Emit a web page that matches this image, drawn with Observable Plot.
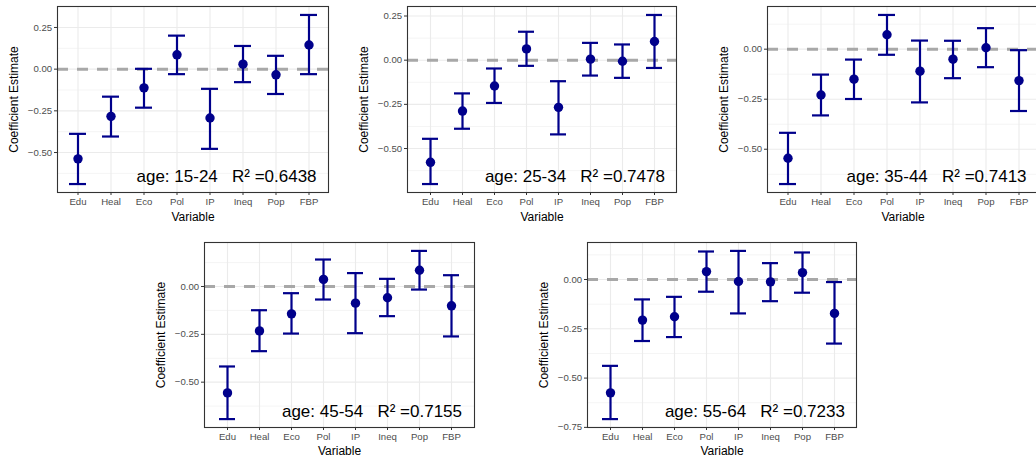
<!DOCTYPE html>
<html><head><meta charset="utf-8">
<script src="https://cdn.jsdelivr.net/npm/d3@7"></script>
<script src="https://cdn.jsdelivr.net/npm/@observablehq/plot@0.6"></script>
<style>
html,body{margin:0;padding:0;background:#fff;}
#root{position:relative;width:1036px;height:460px;overflow:hidden;background:#fff;}
.panel{position:absolute;}
.panel svg{max-width:none;overflow:visible;display:block;}
</style></head><body><div id="root"></div>
<script>
const variables = ["Edu","Heal","Eco","Pol","IP","Ineq","Pop","FBP"];
const ageGroups = ["15-24","25-34","35-44","45-54","55-64"];
const rSquared = ["0.6438","0.7478","0.7413","0.7155","0.7233"];

const est_15_24 = [-0.538,-0.283,-0.112,0.086,-0.293,0.030,-0.034,0.145];
const low_15_24 = [-0.689,-0.404,-0.231,-0.030,-0.478,-0.078,-0.149,-0.030];
const up_15_24  = [-0.388,-0.165,0.002,0.201,-0.118,0.139,0.080,0.325];

const est_25_34 = [-0.578,-0.288,-0.146,0.064,-0.267,0.006,-0.006,0.106];
const low_25_34 = [-0.701,-0.388,-0.242,-0.032,-0.420,-0.087,-0.100,-0.044];
const up_25_34  = [-0.445,-0.188,-0.047,0.161,-0.119,0.098,0.089,0.256];

const est_35_44 = [-0.545,-0.229,-0.150,0.072,-0.110,-0.050,0.007,-0.157];
const low_35_44 = [-0.674,-0.331,-0.249,-0.028,-0.266,-0.145,-0.090,-0.309];
const up_35_44  = [-0.418,-0.127,-0.052,0.171,0.043,0.042,0.105,-0.005];

const est_45_54 = [-0.556,-0.232,-0.143,0.037,-0.087,-0.059,0.085,-0.101];
const low_45_54 = [-0.693,-0.338,-0.246,-0.068,-0.244,-0.155,-0.016,-0.261];
const up_45_54  = [-0.418,-0.124,-0.035,0.141,0.070,0.040,0.186,0.059];

const est_55_64 = [-0.575,-0.206,-0.189,0.040,-0.010,-0.012,0.035,-0.172];
const low_55_64 = [-0.708,-0.312,-0.292,-0.062,-0.172,-0.110,-0.067,-0.325];
const up_55_64  = [-0.438,-0.101,-0.088,0.142,0.145,0.083,0.137,-0.013];

const estimates = [est_15_24, est_25_34, est_35_44, est_45_54, est_55_64];
const lowers = [low_15_24, low_25_34, low_35_44, low_45_54, low_55_64];
const uppers = [up_15_24, up_25_34, up_35_44, up_45_54, up_55_64];

// layout (pixel geometry of each panel)
const layout = [
  {left:0,   top:0,   fl:57,  fr:328,  ft:6,   fb:192, xlab:24.7},
  {left:340, top:0,   fl:407, fr:676,  ft:6,   fb:192, xlab:24.7},
  {left:686, top:0,   fl:767, fr:1038, ft:6,   fb:192, xlab:24.7},
  {left:140, top:230, fl:204, fr:474,  ft:242, fb:427, xlab:23.7},
  {left:520, top:230, fl:587, fr:856,  ft:242, fb:427, xlab:23.7}
];

const NAVY = "#00008B";
const FONT = "'Liberation Sans', Arial, Helvetica, sans-serif";
const root = document.getElementById("root");

layout.forEach((L, k) => {
  const rows = variables.map((v, i) => ({v, est: estimates[k][i], lo: lowers[k][i], hi: uppers[k][i]}));
  const lo = d3.min(rows, d => d.lo), hi = d3.max(rows, d => d.hi);
  const pad = (hi - lo) * 0.05;
  const domain = [lo - pad, hi + pad];
  const major = d3.range(Math.ceil(domain[0] / 0.25), Math.floor(domain[1] / 0.25) + 1).map(i => i * 0.25);
  const minor = d3.range(Math.ceil(domain[0] / 0.125), Math.floor(domain[1] / 0.125) + 1)
    .filter(i => i % 2 !== 0).map(i => i * 0.125);
  const marginLeft = L.fl - L.left, marginTop = L.ft - L.top, marginRight = 14, marginBottom = 36;
  const width = L.fr - L.left + marginRight, height = L.fb - L.top + marginBottom;
  const step = (L.fr - L.fl) / 8.2;
  const plot = Plot.plot({
    width, height, marginLeft, marginRight, marginTop, marginBottom,
    style: {fontFamily: FONT, background: "transparent", maxWidth: "none", overflow: "visible"},
    x: {type: "band", domain: variables, paddingInner: 0.5, paddingOuter: 0.35, axis: null},
    y: {domain, axis: null},
    marks: [
      Plot.gridY(minor, {stroke: "#EBEBEB", strokeOpacity: 1, strokeWidth: 0.55}),
      Plot.gridY(major, {stroke: "#EBEBEB", strokeOpacity: 1, strokeWidth: 1.1}),
      Plot.gridX(variables, {stroke: "#EBEBEB", strokeOpacity: 1, strokeWidth: 1.1}),
      Plot.ruleY([0], {stroke: "#A8A8A8", strokeWidth: 3, strokeDasharray: "11,9"}),
      Plot.ruleX(rows, {x: "v", y1: "lo", y2: "hi", stroke: NAVY, strokeWidth: 2.2}),
      Plot.tickY(rows, {x: "v", y: "lo", stroke: NAVY, strokeWidth: 2.2}),
      Plot.tickY(rows, {x: "v", y: "hi", stroke: NAVY, strokeWidth: 2.2}),
      Plot.dot(rows, {x: "v", y: "est", r: 4.7, fill: NAVY}),
      Plot.axisY(major, {tickSize: 3, tickPadding: 2.4, tickFormat: d3.format(".2f"), fontSize: 9.6, fill: "#4D4D4D", stroke: "#333333", label: null}),
      Plot.axisX(variables, {tickSize: 3, tickPadding: 2.4, fontSize: 9.6, fill: "#4D4D4D", stroke: "#333333", label: null}),
      Plot.text(["Variable"], {text: d => d, frameAnchor: "bottom", dy: L.xlab, fontSize: 12, fill: "#000", textAnchor: "middle", lineAnchor: "middle"}),
      Plot.text(["Coefficient Estimate"], {text: d => d, frameAnchor: "left", dx: -43, rotate: -90, fontSize: 12, fill: "#000", textAnchor: "middle", lineAnchor: "middle"}),
      Plot.text([`age: ${ageGroups[k]}   R² =${rSquared[k]}`], {text: d => d, x: () => "IP", frameAnchor: "bottom", dx: step / 2, dy: -16, fontSize: 17, fill: "#000", textAnchor: "middle", lineAnchor: "middle"}),
      Plot.frame({stroke: "#333333", strokeWidth: 1.1})
    ]
  });
  const div = document.createElement("div");
  div.className = "panel";
  div.style.left = L.left + "px";
  div.style.top = L.top + "px";
  div.style.width = width + "px";
  div.style.height = height + "px";
  div.appendChild(plot);
  root.appendChild(div);
});
</script></body></html>
